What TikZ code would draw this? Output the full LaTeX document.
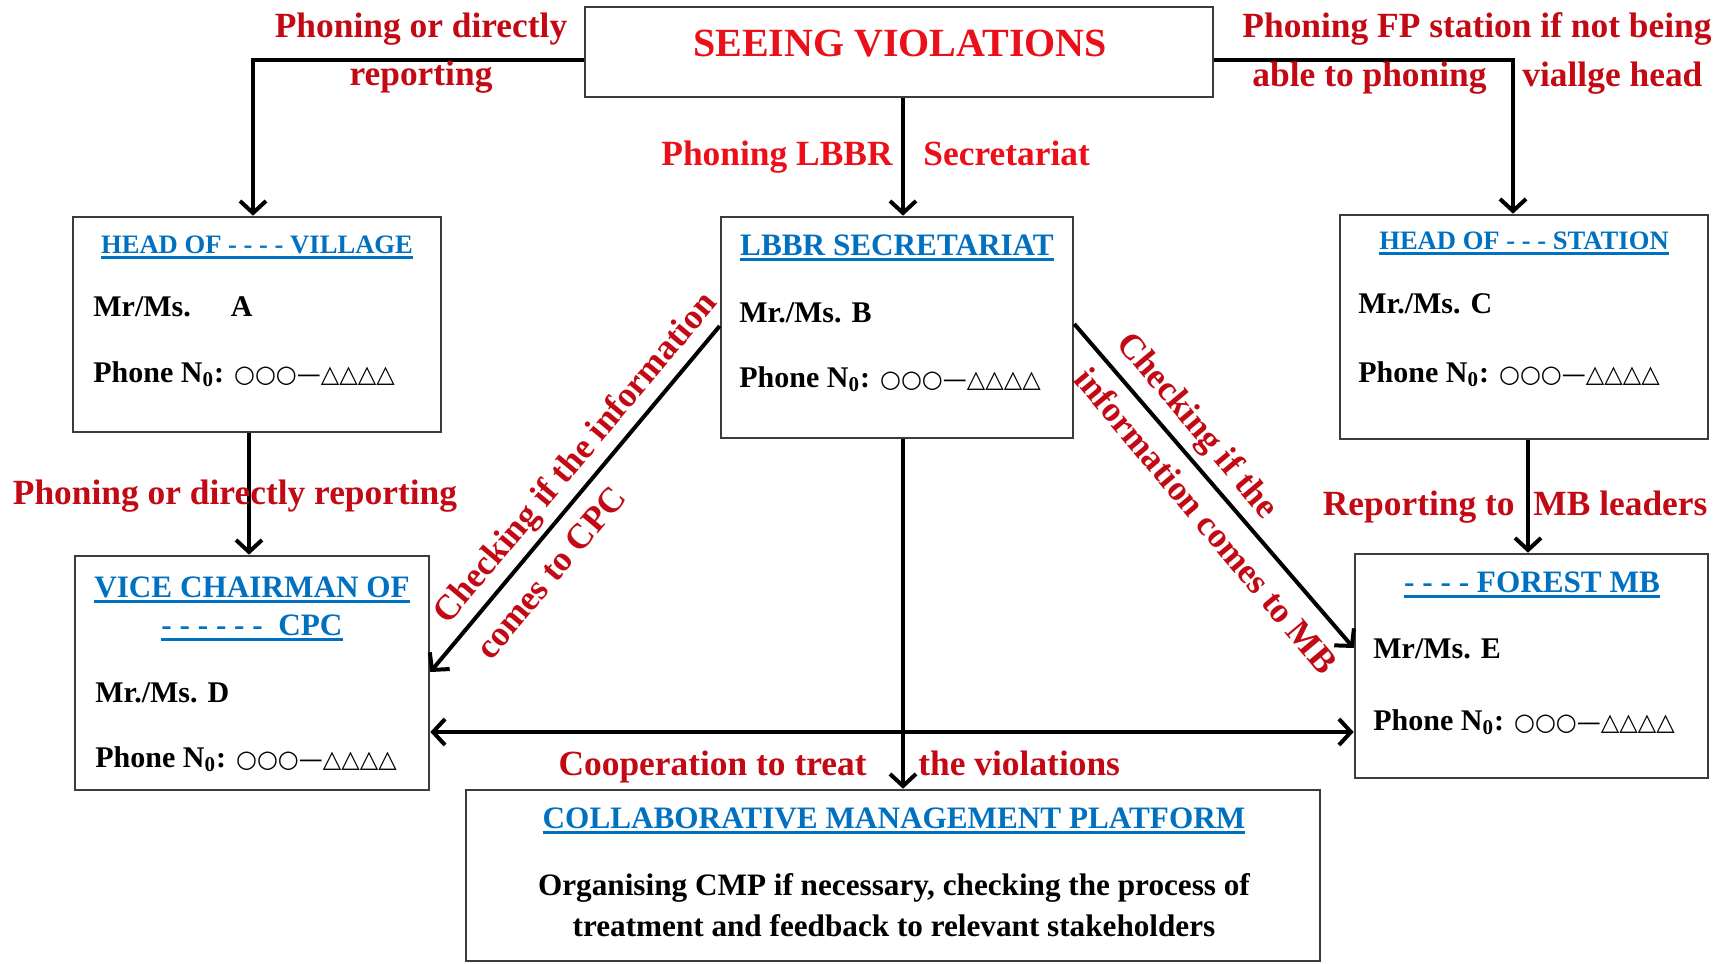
\documentclass[tikz,border=0pt]{standalone}
\usepackage{fontspec}
\setmainfont{Liberation Serif}
\newfontfamily\symfont{DejaVu Sans}
\usetikzlibrary{arrows.meta,fit,calc}
\definecolor{lblred}{RGB}{195,10,20}
\definecolor{hotred}{RGB}{235,15,25}
\definecolor{ttlblue}{RGB}{0,112,192}
\definecolor{boxgray}{RGB}{60,60,60}
\newcommand\lblfont{\fontsize{17.7}{22}\selectfont\bfseries}
\newcommand\diagfont{\fontsize{17.7}{28}\selectfont\bfseries}
\newcommand\seeingfont{\fontsize{20}{24}\selectfont\bfseries}
\newcommand\ttlbig{\fontsize{15.6}{19}\selectfont\bfseries}
\newcommand\ttlsmall{\fontsize{13.3}{16}\selectfont\bfseries}
\newcommand\bodyfont{\fontsize{15}{18}\selectfont\bfseries}
\newcommand\cmpfont{\fontsize{15.6}{20.5}\selectfont\bfseries}
\newcommand\phonesyms{{\symfont\mdseries\fontsize{12}{14}\selectfont ○○○—△△△△}}
\newcommand\myul[1]{\setbox0\hbox{#1}\rlap{\rule[-3pt]{\wd0}{1.5pt}}\box0}
\tikzset{
  box/.style={draw=boxgray, line width=1.3pt, inner sep=0pt},
  conn/.style={line width=2pt, -{Straight Barb[length=6pt,width=13pt]}},
  lbl/.style={text=lblred, font=\lblfont, inner sep=0pt},
  diag/.style={text=lblred, font=\diagfont, inner sep=0pt, align=left},
  ttl/.style={text=ttlblue, inner sep=0pt, anchor=base},
  body/.style={font=\bodyfont, inner sep=0pt, anchor=base west},
}
\begin{document}
\begin{tikzpicture}[x=0.5pt,y=-0.5pt]
\fill[white] (0,0) rectangle (1721,964);
\useasboundingbox (0,0) rectangle (1721,964);

% boxes
\node[box, fit={(585,7) (1213,97)}] (seeing) {};
\node[box, fit={(73,217) (441,432)}] (village) {};
\node[box, fit={(721,217) (1073,438)}] (lbbr) {};
\node[box, fit={(1340,215) (1708,439)}] (station) {};
\node[box, fit={(75,556) (429,790)}] (vice) {};
\node[box, fit={(1355,554) (1708,778)}] (forest) {};
\node[box, fit={(466,790) (1320,961)}] (cmp) {};

% box texts
\node[anchor=base, text=hotred, font=\seeingfont, inner sep=0pt] (seeingtxt) at (900,56) {SEEING VIOLATIONS};

\node[ttl, font=\ttlsmall] (villagettl) at (257,253) {\myul{HEAD OF - - - - VILLAGE}};
\node[body] (villagename) at (93,316) {Mr/Ms.\hspace{20pt}A};
\node[body] (villagephone) at (93,382) {Phone N\textsubscript{0}: \phonesyms};

\node[ttl, font=\ttlbig] (lbbrttl) at (897,255) {\myul{LBBR SECRETARIAT}};
\node[body] (lbbrname) at (739,322) {Mr./Ms. B};
\node[body] (lbbrphone) at (739,387) {Phone N\textsubscript{0}: \phonesyms};

\node[ttl, font=\ttlsmall] (stationttl) at (1524,249) {\myul{HEAD OF - - - STATION}};
\node[body] (stationname) at (1358,313) {Mr./Ms. C};
\node[body] (stationphone) at (1358,382) {Phone N\textsubscript{0}: \phonesyms};

\node[ttl, font=\ttlbig] (vicettla) at (252,597) {\myul{VICE CHAIRMAN OF}};
\node[ttl, font=\ttlbig] (vicettlb) at (252,635) {\myul{- - - - - -\ \ CPC}};
\node[body] (vicename) at (95,702) {Mr./Ms. D};
\node[body] (vicephone) at (95,767) {Phone N\textsubscript{0}: \phonesyms};

\node[ttl, font=\ttlbig] (forestttl) at (1532,592) {\myul{- - - - FOREST MB}};
\node[body] (forestname) at (1373,658) {Mr/Ms. E};
\node[body] (forestphone) at (1373,730) {Phone N\textsubscript{0}: \phonesyms};

\node[ttl, font=\ttlbig] (cmpttl) at (894,828) {\myul{COLLABORATIVE MANAGEMENT PLATFORM}};
\node[font=\cmpfont, align=center, inner sep=0pt] (cmpbody) at (894,905) {Organising CMP if necessary, checking the process of\\treatment and feedback to relevant stakeholders};

% helper coordinates
\coordinate (lc) at (253,60);
\coordinate (rc) at (1513,60);
\coordinate (cx) at (903,0);
\coordinate (vx) at (249,0);
\coordinate (sx) at (1528,0);
\coordinate (hy) at (0,732);
\coordinate (dla) at (0,326);
\coordinate (dlb) at (0,672);
\coordinate (dra) at (0,324);
\coordinate (drb) at (0,648);
\coordinate (la) at (lbbr.west |- dla);
\coordinate (lb) at (vice.east |- dlb);
\coordinate (ra) at (lbbr.east |- dra);
\coordinate (rb) at (forest.west |- drb);

% connectors
\draw[conn] (seeing.west |- lc) -- (lc) -- (village.north -| lc);
\draw[conn] (seeing.east |- rc) -- (rc) -- (station.north -| rc);
\draw[conn] (seeing.south -| cx) -- (lbbr.north -| cx);
\draw[conn] (lbbr.south -| cx) -- (cmp.north -| cx);
\draw[conn] (village.south -| vx) -- (vice.north -| vx);
\draw[conn] (station.south -| sx) -- (forest.north -| sx);
\draw[conn, {Straight Barb[length=6pt,width=13pt]}-{Straight Barb[length=6pt,width=13pt]}] (vice.east |- hy) -- (forest.west |- hy);
\draw[conn] (la) -- (lb);
\draw[conn] (ra) -- (rb);

% labels
\node[lbl, anchor=base] (lblpd1) at (421,37) {Phoning or directly};
\node[lbl, anchor=base] (lblpd2) at (421,85) {reporting};
\node[lbl, anchor=base] (lblfp1) at (1477,37) {Phoning FP station if not being};
\node[lbl, anchor=base east] (lblfp2a) at (1487,86) {able to phoning};
\node[lbl, anchor=base west] (lblfp2b) at (1522,86) {viallge head};
\node[lbl, text=hotred, anchor=base east] (lblsec1) at (893,165) {Phoning LBBR};
\node[lbl, text=hotred, anchor=base west] (lblsec2) at (923,165) {Secretariat};
\node[lbl, anchor=base] (lblvil) at (235,504) {Phoning or directly reporting};
\node[lbl, anchor=base east] (lblmb1) at (1515,515) {Reporting to};
\node[lbl, anchor=base west] (lblmb2) at (1533,515) {MB leaders};
\node[lbl, anchor=base east] (lblco1) at (867,775) {Cooperation to treat};
\node[lbl, anchor=base west] (lblco2) at (918,775) {the violations};
\node[diag, rotate=50] (lblcpc) at ($(la)!0.43!(lb)$) {Checking if the information\\comes to CPC};
\node[diag, rotate=-50] (lblmbd) at ($(ra)!0.55!(rb)$) {Checking if the\\information comes to MB};
\end{tikzpicture}
\end{document}
